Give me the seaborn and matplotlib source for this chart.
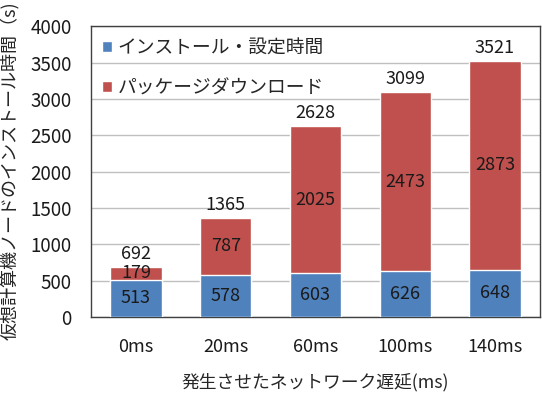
import matplotlib
matplotlib.use("Agg")
import matplotlib.pyplot as plt
from matplotlib.patches import Patch
import pandas as pd
import seaborn as sns

sns.set_style("white")
plt.rcParams['font.family'] = ['Noto Sans CJK JP', 'DejaVu Sans']

# data
delays = ['0ms', '20ms', '60ms', '100ms', '140ms']
install_time = [513, 578, 603, 626, 648]
download_time = [179, 787, 2025, 2473, 2873]
totals = [692, 1365, 2628, 3099, 3521]

blue = '#4F81BD'
red = '#C0504D'

df = pd.DataFrame({'delay': delays, 'install': install_time,
                   'download': download_time, 'total': totals})

fig = plt.figure(figsize=(5.42, 4.09), dpi=100)
ax = fig.add_axes([0.168, 0.225, 0.828, 0.711])

# stacked look: full height in red, blue part drawn over it
sns.barplot(data=df, x='delay', y='total', color=red, width=0.57,
            saturation=1, ax=ax, zorder=2)
sns.barplot(data=df, x='delay', y='install', color=blue, width=0.57,
            saturation=1, ax=ax, zorder=3)

fs = 13
for i, row in df.iterrows():
    ax.text(i, row['install'] / 2, str(row['install']), ha='center',
            va='center', fontsize=fs, color='#1a1a1a', zorder=5)
    ax.text(i, row['install'] + row['download'] / 2, str(row['download']),
            ha='center', va='center', fontsize=fs, color='#1a1a1a', zorder=5)
    ax.annotate(str(row['total']), (i, row['total']), xytext=(0, 3),
                textcoords='offset points', ha='center', va='bottom',
                fontsize=fs, color='#1a1a1a')

ax.set_ylim(0, 4000)
ax.set_yticks(range(0, 4001, 500))
ax.set_xlim(-0.5, 4.5)
ax.yaxis.grid(True, color='#BFBFBF', lw=1)
ax.set_axisbelow(True)
ax.tick_params(axis='y', length=0, pad=14, labelsize=13.5, labelcolor='#1a1a1a')
ax.tick_params(axis='x', length=0, pad=15, labelsize=13, labelcolor='#1a1a1a')
for s in ax.spines.values():
    s.set_color('#404040')
    s.set_linewidth(1)

ax.set_xlabel('発生させたネットワーク遅延(ms)', fontsize=12.8, labelpad=12)
ax.set_ylabel('仮想計算機ノードのインストール時間（s)', fontsize=13)
ax.yaxis.set_label_coords(-0.16, -0.08)
ax.yaxis.label.set_horizontalalignment('left')

handles = [Patch(facecolor=blue, label='インストール・設定時間'),
           Patch(facecolor=red, label='パッケージダウンロード')]
ax.legend(handles=handles, loc='upper left', bbox_to_anchor=(0.0, 1.0),
          frameon=False, fontsize=13.5, handlelength=0.5, handleheight=0.5,
          handletextpad=0.3, labelspacing=1.0, borderaxespad=0.2)

plt.savefig("out.png", dpi=100)
